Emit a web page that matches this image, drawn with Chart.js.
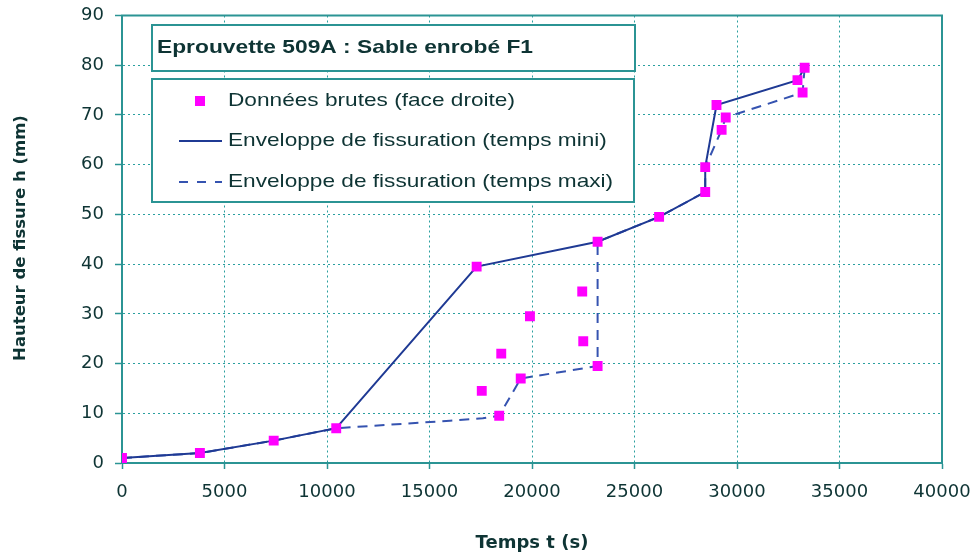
<!DOCTYPE html>
<html><head><meta charset="utf-8">
<script src="https://cdn.jsdelivr.net/npm/chart.js@4.4.0/dist/chart.umd.min.js"></script>
<style>html,body{margin:0;padding:0;background:#fff;}canvas{display:block;}</style>
</head><body>
<canvas id="c" width="972" height="556"></canvas>
<script>
// ---- data ----
const rawTimes   = [0, 3800, 7400, 10450, 17300, 17550, 18400, 18500, 19450, 19900, 22450, 22500, 23200, 23200, 26200, 28450, 28450, 29250, 29450, 29000, 32950, 33300, 33200];
const rawHeights = [1, 2, 4.5, 7, 39.5, 14.5, 9.5, 22, 17, 29.5, 34.5, 24.5, 19.5, 44.5, 49.5, 54.5, 59.5, 67, 69.5, 72, 77, 79.5, 74.5];
const miniTimes   = [0, 3800, 7400, 10450, 17300, 23200, 26200, 28450, 28450, 29000, 32950, 33300];
const miniHeights = [1, 2, 4.5, 7, 39.5, 44.5, 49.5, 54.5, 59.5, 72, 77, 79.5];
const maxiTimes   = [0, 3800, 7400, 10450, 16000, 17600, 18400, 19450, 23200, 23200, 26200, 28450, 28450, 29250, 29450, 33200, 33300];
const maxiHeights = [1, 2, 4.5, 7, 8.5, 9, 9.5, 17, 19.5, 44.5, 49.5, 54.5, 59.5, 67, 69.5, 74.5, 79.5];
const xTicks = [0, 5000, 10000, 15000, 20000, 25000, 30000, 35000, 40000];
const yTicks = [0, 10, 20, 30, 40, 50, 60, 70, 80, 90];
const seriesLabels = ['Données brutes (face droite)', 'Enveloppe de fissuration (temps mini)', 'Enveloppe de fissuration (temps maxi)'];
const chartTitle = 'Eprouvette 509A : Sable enrobé F1';
const xTitle = 'Temps t (s)';
const yTitle = 'Hauteur de fissure h (mm)';

// ---- styles ----
const teal = '#2a9f9f';
const frame = '#2b9494';
const textCol = '#0e3434';
const pts = (xs, ys) => xs.map((x, i) => ({x: x, y: ys[i]}));

const boxPlugin = {
  id: 'boxes',
  beforeDatasetsDraw(chart) {
    const {ctx, chartArea: a} = chart;
    ctx.save();
    ctx.strokeStyle = frame; ctx.lineWidth = 2;
    ctx.strokeRect(a.left, a.top, a.right - a.left, a.bottom - a.top);
    ctx.restore();
  },
  afterDraw(chart) {
    const ctx = chart.ctx;
    const ds = chart.data.datasets;
    ctx.save();
    // y axis title (rotated)
    ctx.save();
    ctx.translate(21, 238); ctx.rotate(-Math.PI / 2);
    ctx.font = 'bold 16.5px "DejaVu Sans", sans-serif';
    ctx.fillStyle = textCol; ctx.textAlign = 'center'; ctx.textBaseline = 'middle';
    ctx.fillText(yTitle, 0, 0);
    ctx.restore();
    // title box
    ctx.fillStyle = '#fff'; ctx.fillRect(152, 25, 483, 46);
    ctx.strokeStyle = frame; ctx.lineWidth = 2; ctx.strokeRect(152, 25, 483, 46);
    // legend box
    ctx.fillStyle = '#fff'; ctx.fillRect(152, 79, 482, 123);
    ctx.strokeRect(152, 79, 482, 123);

    const fitText = (txt, font, x, y, target) => {
      ctx.font = font;
      const w = ctx.measureText(txt).width;
      const sx = target / w;
      ctx.save(); ctx.translate(x, y); ctx.scale(sx, 1);
      ctx.fillStyle = textCol; ctx.textBaseline = 'middle'; ctx.textAlign = 'left';
      ctx.fillText(txt, 0, 0); ctx.restore();
      return sx;
    };
    fitText(chartTitle, 'bold 18.5px "Liberation Sans", Arial, sans-serif', 157, 48, 376);

    ctx.font = '18.5px "Liberation Sans", Arial, sans-serif';
    const sx = 287 / ctx.measureText(seriesLabels[0]).width;
    const ys = [101, 141, 182];
    seriesLabels.forEach((lab, i) => {
      ctx.save(); ctx.translate(228, ys[i]); ctx.scale(sx, 1);
      ctx.fillStyle = textCol; ctx.textBaseline = 'middle'; ctx.fillText(lab, 0, 0); ctx.restore();
    });
    // samples
    ctx.fillStyle = ds[0].pointBackgroundColor; ctx.fillRect(195, ys[0] - 5, 10, 10);
    ctx.beginPath(); ctx.strokeStyle = ds[1].borderColor; ctx.lineWidth = 2; ctx.setLineDash([]);
    ctx.moveTo(179, ys[1]); ctx.lineTo(222, ys[1]); ctx.stroke();
    ctx.beginPath(); ctx.strokeStyle = ds[2].borderColor; ctx.setLineDash([9, 9]); ctx.lineDashOffset = 0;
    ctx.moveTo(179, ys[2]); ctx.lineTo(222, ys[2]); ctx.stroke();
    ctx.restore();
  }
};

new Chart(document.getElementById('c'), {
  type: 'scatter',
  data: {
    datasets: [
      {label: seriesLabels[0], data: pts(rawTimes, rawHeights), pointStyle: 'rect', pointRadius: 7, pointHoverRadius: 7,
       pointBackgroundColor: '#ff00ff', pointBorderColor: '#ff00ff', pointBorderWidth: 0, showLine: false, order: 0},
      {label: seriesLabels[1], data: pts(miniTimes, miniHeights), showLine: true, borderColor: '#1f3a94', borderWidth: 2,
       pointRadius: 0, fill: false, tension: 0, order: 1},
      {label: seriesLabels[2], data: pts(maxiTimes, maxiHeights), showLine: true, borderColor: '#3553b0', borderWidth: 2,
       borderDash: [10, 7], pointRadius: 0, fill: false, tension: 0, order: 2}
    ]
  },
  options: {
    responsive: false, animation: false, devicePixelRatio: 1,
    layout: {padding: {top: 15.5, right: 30, left: 0, bottom: 0}},
    plugins: {legend: {display: false}, tooltip: {enabled: false}},
    scales: {
      x: {
        type: 'linear', min: 0, max: 40000,
        afterBuildTicks: s => { s.ticks = xTicks.map(v => ({value: v})); },
        afterFit: s => { s.height = 93; s.paddingLeft = 0; s.paddingRight = 0; },
        ticks: {color: textCol, font: {family: 'DejaVu Sans', size: 18}, padding: 13, maxRotation: 0, autoSkip: false,
                callback: v => String(v)},
        grid: {color: teal, lineWidth: 1, tickLength: 6, tickColor: frame, tickWidth: 1.5, tickBorderDash: []},
        border: {color: frame, width: 2, dash: [2, 3]},
        title: {display: true, text: xTitle, color: textCol, font: {family: 'DejaVu Sans', size: 18, weight: 'bold'}, padding: {top: 0, bottom: 2}}
      },
      y: {
        type: 'linear', min: 0, max: 90,
        afterBuildTicks: s => { s.ticks = yTicks.map(v => ({value: v})); },
        afterFit: s => { s.width = 122; s.paddingTop = 0; s.paddingBottom = 0; },
        ticks: {color: textCol, font: {family: 'DejaVu Sans', size: 18}, padding: 11, autoSkip: false,
                callback: v => String(v)},
        grid: {color: teal, lineWidth: 1, tickLength: 7, tickColor: frame, tickWidth: 1.5, tickBorderDash: []},
        border: {color: frame, width: 2, dash: [2, 3]},
        title: {display: false}
      }
    }
  },
  plugins: [boxPlugin]
});
</script>
</body></html>
